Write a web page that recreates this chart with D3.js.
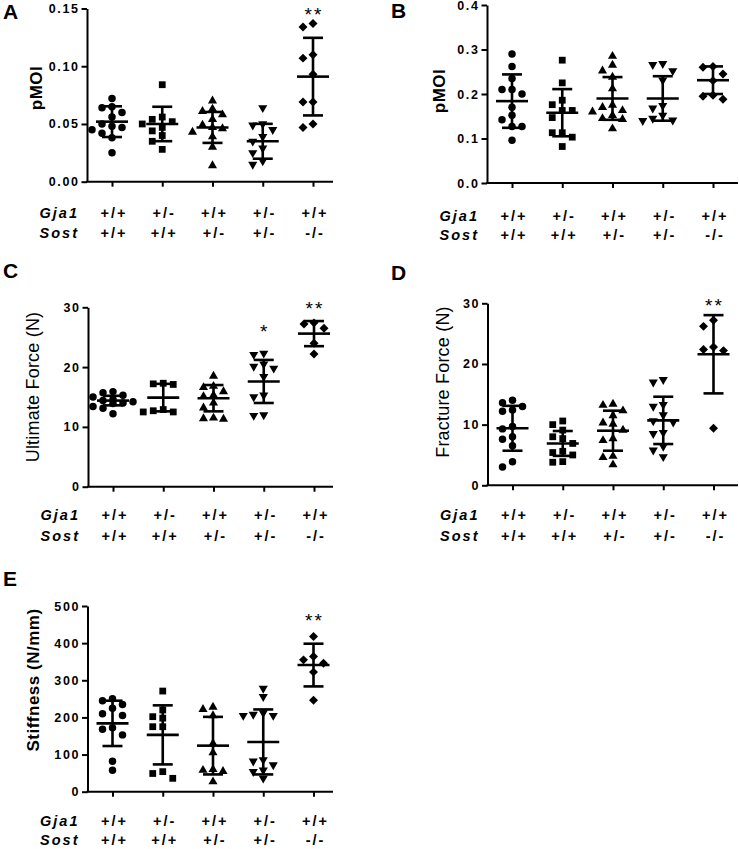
<!DOCTYPE html>
<html><head><meta charset="utf-8">
<script src="https://cdn.jsdelivr.net/npm/d3@7"></script>
<style>body{margin:0;background:#fff}svg{display:block}</style>
</head><body>
<svg id="c" width="739" height="849"></svg>
<script>
// ---------------- DATA ----------------
const groups = ["G1","G2","G3","G4","G5"];
const gja1Labels = ["+/+","+/-","+/+","+/-","+/+"];
const sostLabels = ["+/+","+/+","+/-","+/-","-/-"];
const shapes = ["circle","square","triangle","triangleDown","diamond"];

const aValues = [
  [0.072,0.065,0.064,0.060,0.056,0.050,0.048,0.047,0.045,0.042,0.038,0.025],
  [0.084,0.056,0.054,0.052,0.050,0.047,0.044,0.040,0.035,0.028],
  [0.070,0.063,0.061,0.058,0.054,0.049,0.047,0.046,0.043,0.039,0.030,0.014],
  [0.064,0.050,0.049,0.045,0.039,0.035,0.029,0.025,0.018,0.015],
  [0.137,0.134,0.110,0.107,0.093,0.069,0.069,0.050,0.047]
];
const aMeans = [0.052,0.050,0.047,0.035,0.091];
const aSDs = [0.0133,0.0149,0.0134,0.0151,0.0336];
const aTicks = [0,0.05,0.10,0.15];
const aSig = [["G5","**",0.148]];

const bValues = [
  [0.290,0.262,0.235,0.210,0.210,0.200,0.170,0.152,0.142,0.127,0.127,0.096],
  [0.276,0.225,0.186,0.176,0.163,0.163,0.147,0.113,0.113,0.103,0.082],
  [0.285,0.265,0.252,0.238,0.212,0.175,0.170,0.163,0.160,0.152,0.145,0.143,0.122],
  [0.268,0.266,0.252,0.231,0.174,0.168,0.152,0.145,0.141,0.140],
  [0.262,0.260,0.245,0.230,0.197,0.195,0.188]
];
const bMeans = [0.184,0.158,0.190,0.190,0.231];
const bSDs = [0.060,0.053,0.048,0.050,0.031];
const bTicks = [0,0.1,0.2,0.3,0.4];
const bSig = [];

const cValues = [
  [15.9,15.7,15.3,15.0,14.6,14.4,14.2,14.0,13.9,13.4,13.1,12.2],
  [17.3,17.2,17.1,12.9,12.7,12.5,12.5],
  [18.5,16.8,16.6,15.9,15.3,15.1,14.0,13.2,11.5,11.4,11.3],
  [22.3,22.1,20.5,20.1,19.8,18.4,15.3,15.0,12.0,11.9],
  [27.4,27.2,26.5,24.0,22.2]
];
const cMeans = [14.4,14.9,14.8,17.6,25.6];
const cSDs = [0.8,2.3,2.2,3.6,2.1];
const cTicks = [0,10,20,30];
const cSig = [["G4","*",26.5],["G5","**",30.4]];

const dValues = [
  [14.0,13.6,13.0,12.4,12.2,9.7,9.3,8.0,7.6,6.5,3.9,3.0],
  [10.6,10.0,9.1,8.0,7.7,6.9,5.6,5.4,5.0,3.9,3.8],
  [13.4,13.2,12.3,11.5,10.3,10.1,9.1,7.7,7.4,4.8,4.6,3.4],
  [17.4,17.0,13.3,13.0,11.6,10.6,10.4,8.7,8.5,6.4,5.8,4.7],
  [27.2,26.2,22.8,22.4,22.2,9.4]
];
const dMeans = [9.4,6.9,9.0,10.7,21.6];
const dSDs = [3.7,2.05,3.3,3.9,6.45];
const dTicks = [0,10,20,30];
const dSig = [["G5","**",30.2]];

const eValues = [
  [250,245,235,225,210,205,172,168,153,82,58],
  [271,220,202,198,175,175,54,49,36],
  [228,222,205,130,105,60,58,55,27],
  [278,256,212,208,205,205,86,82,72,58,54,36],
  [418,364,355,346,322,246]
];
const eMeans = [184,153,124,134,341];
const eSDs = [61,79.5,77.5,87.5,57.5];
const eTicks = [0,100,200,300,400,500];
const eSig = [["G5","**",471]];

// ---------------- LAYOUT ----------------
const FONT = "'Liberation Sans', Arial, Helvetica, sans-serif";
const svg = d3.select("#c");

const panels = [
  {letter:"A", lx:3, ly:19, title:"pMOI", bold:true, tx:42, ty:88,
   values:aValues, means:aMeans, sds:aSDs, ticks:aTicks, fmt:d3.format(".2f"), sig:aSig,
   left:87, right:333, y0:181.7, yTop:8.5, max:0.15, row1:213, row2:233},
  {letter:"B", lx:391, ly:18, title:"pMOI", bold:true, tx:445, ty:91,
   values:bValues, means:bMeans, sds:bSDs, ticks:bTicks, fmt:d3.format(".1f"), sig:bSig,
   left:487, right:738, y0:183, yTop:5, max:0.4, row1:216, row2:235},
  {letter:"C", lx:3, ly:278, title:"Ultimate Force (N)", bold:false, tx:39, ty:387,
   values:cValues, means:cMeans, sds:cSDs, ticks:cTicks, fmt:d3.format("d"), sig:cSig,
   left:88, right:333, y0:486.7, yTop:307.3, max:30, row1:515, row2:536},
  {letter:"D", lx:391, ly:280, title:"Fracture Force (N)", bold:false, tx:449, ty:382,
   values:dValues, means:dMeans, sds:dSDs, ticks:dTicks, fmt:d3.format("d"), sig:dSig,
   left:487.5, right:738, y0:485.3, yTop:303.3, max:30, row1:515, row2:536},
  {letter:"E", lx:3, ly:586, title:"Stiffness (N/mm)", bold:true, tx:39, ty:680,
   values:eValues, means:eMeans, sds:eSDs, ticks:eTicks, fmt:d3.format("d"), sig:eSig,
   left:87.5, right:333, y0:791.7, yTop:606, max:500, row1:821, row2:840}
];

const symbolTypes = {
  circle:{type:d3.symbolCircle,size:44,rot:0},
  square:{type:d3.symbolSquare,size:46,rot:0},
  triangle:{type:d3.symbolTriangle,size:36,rot:0},
  triangleDown:{type:d3.symbolTriangle,size:36,rot:180},
  diamond:{type:d3.symbolSquare,size:40,rot:45}
};

panels.forEach(p => {
  const g = svg.append("g");
  const y = d3.scaleLinear().domain([0,p.max]).range([p.y0,p.yTop]);
  const x = d3.scalePoint().domain(groups).range([p.left+25, p.left+226]);

  // panel letter
  g.append("text").attr("x",p.lx).attr("y",p.ly).text(p.letter)
    .attr("font-family",FONT).attr("font-weight","bold").attr("font-size",21);

  // y axis
  const ya = g.append("g").attr("transform",`translate(${p.left},0)`)
    .call(d3.axisLeft(y).tickValues(p.ticks).tickFormat(p.fmt).tickSize(5.5).tickSizeOuter(0).tickPadding(2));
  ya.select(".domain").attr("stroke-width",2);
  ya.selectAll(".tick line").attr("stroke-width",2);
  ya.selectAll(".tick text").attr("font-family",FONT).attr("font-weight","bold")
    .attr("font-size",12.5).attr("letter-spacing","1.6px").attr("fill","#000");

  // x axis
  const xa = g.append("g").attr("transform",`translate(0,${p.y0})`)
    .call(d3.axisBottom(x).tickFormat("").tickSize(5).tickSizeOuter(0));
  xa.select(".domain").attr("d",`M${p.left-1},0H${p.right}`).attr("stroke-width",2);
  xa.selectAll(".tick line").attr("stroke-width",2);

  // y title
  g.append("text").attr("transform",`translate(${p.tx},${p.ty}) rotate(-90)`)
    .attr("text-anchor","middle").text(p.title)
    .attr("font-family",FONT).attr("font-weight",p.bold?"bold":"normal")
    .attr("font-size",p.bold?17:18).attr("letter-spacing",p.bold?"0.5px":"0.2px");

  // genotype rows
  const rowFont = (sel)=>sel.attr("font-family",FONT).attr("font-weight","bold")
    .attr("font-size",14.5).attr("letter-spacing","2px").attr("dominant-baseline","central");
  g.append("text").attr("x",p.left-8).attr("y",p.row1).attr("text-anchor","end")
    .attr("font-style","italic").text("Gja1").call(rowFont);
  g.append("text").attr("x",p.left-8).attr("y",p.row2).attr("text-anchor","end")
    .attr("font-style","italic").text("Sost").call(rowFont);
  g.selectAll(".r1").data(groups).enter().append("text")
    .attr("x",(d)=>x(d)+2).attr("y",p.row1).attr("text-anchor","middle")
    .text((d,i)=>gja1Labels[i]).call(rowFont);
  g.selectAll(".r2").data(groups).enter().append("text")
    .attr("x",(d)=>x(d)+2).attr("y",p.row2).attr("text-anchor","middle")
    .text((d,i)=>sostLabels[i]).call(rowFont);

  // points with dodge
  groups.forEach((gr,i) => {
    const st = symbolTypes[shapes[i]];
    const path = d3.symbol().type(st.type).size(st.size)();
    const placed = [];
    const vals = p.values[i].slice().sort((a,b)=>b-a);
    vals.forEach(v => {
      const py = y(v);
      const offs = [0,-10,10,-20,20];
      let off = offs.find(o => placed.every(q => Math.hypot(q.x-o,q.y-py) >= 7.6));
      if (off===undefined) off = 0;
      placed.push({x:off,y:py});
      g.append("path").attr("d",path)
        .attr("transform",`translate(${x(gr)+off},${py}) rotate(${st.rot})`)
        .attr("fill","#000");
    });

    // error bars
    const cx = x(gr), m = p.means[i], s = p.sds[i];
    const eb = g.append("g").attr("stroke","#000").attr("stroke-width",2.6);
    eb.append("line").attr("x1",cx).attr("x2",cx).attr("y1",y(m+s)).attr("y2",y(m-s));
    eb.append("line").attr("x1",cx-10).attr("x2",cx+10).attr("y1",y(m+s)).attr("y2",y(m+s));
    eb.append("line").attr("x1",cx-10).attr("x2",cx+10).attr("y1",y(m-s)).attr("y2",y(m-s));
    eb.append("line").attr("x1",cx-16).attr("x2",cx+16).attr("y1",y(m)).attr("y2",y(m));
  });

  // significance
  p.sig.forEach(([gr,txt,val]) => {
    g.append("text").attr("x",x(gr)+1).attr("y",y(val)+10).attr("text-anchor","middle")
      .text(txt).attr("font-family",FONT).attr("font-size",19).attr("letter-spacing","2px");
  });
});
</script>
</body></html>
